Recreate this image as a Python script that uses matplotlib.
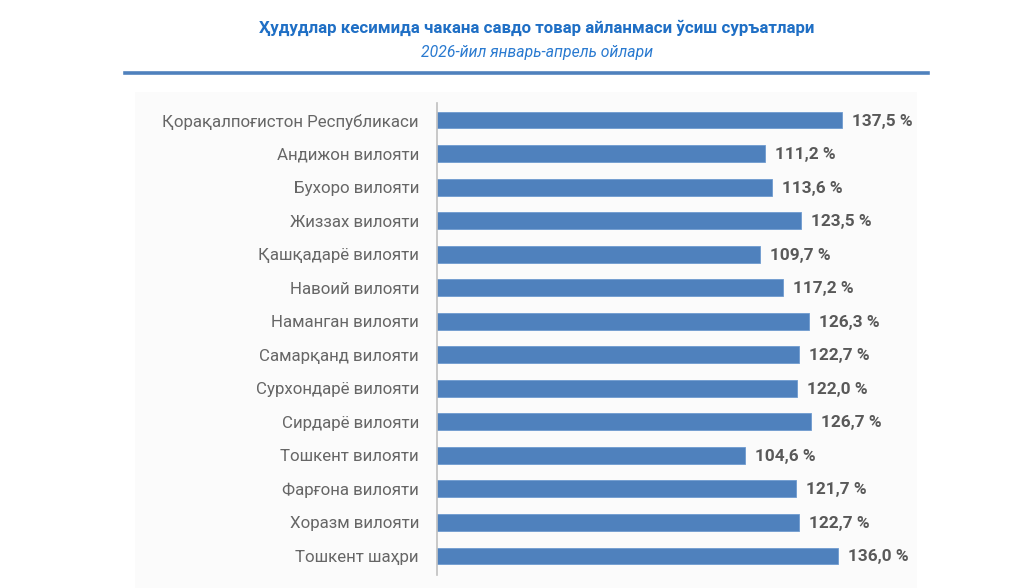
import matplotlib
matplotlib.use("Agg")
import matplotlib.pyplot as plt
from matplotlib.patches import Rectangle
from matplotlib.lines import Line2D

plt.rcParams["font.family"] = ["Liberation Sans Narrow", "Roboto", "DejaVu Sans"]

regions = [
    "Қорақалпоғистон Республикаси",
    "Андижон вилояти",
    "Бухоро вилояти",
    "Жиззах вилояти",
    "Қашқадарё вилояти",
    "Навоий вилояти",
    "Наманган вилояти",
    "Самарқанд вилояти",
    "Сурхондарё вилояти",
    "Сирдарё вилояти",
    "Тошкент вилояти",
    "Фарғона вилояти",
    "Хоразм вилояти",
    "Тошкент шаҳри",
]
growth = [137.5, 111.2, 113.6, 123.5, 109.7, 117.2, 126.3,
          122.7, 122.0, 126.7, 104.6, 121.7, 122.7, 136.0]

title = "Ҳудудлар кесимида чакана савдо товар айланмаси ўсиш суръатлари"
subtitle = "2026-йил январь-апрель ойлари"

W, H = 1024, 588
fig = plt.figure(figsize=(W / 100, H / 100), dpi=100)
fig.patch.set_facecolor("white")

# light panel behind the chart
fig.patches.append(Rectangle((135 / W, 0), (917 - 135) / W, 1 - 92 / H,
                             transform=fig.transFigure, facecolor="#fbfbfb",
                             edgecolor="none", zorder=-5))

fig.text(537 / W, 1 - 28 / H, title, ha="center", va="center",
         fontsize=12.2, fontweight="bold", color="#1f6fc5")
fig.text(537 / W, 1 - 52 / H, subtitle, ha="center", va="center",
         fontsize=11.3, style="italic", color="#2a7ad0")
fig.lines.append(Line2D([125 / W, 928 / W], [1 - 73 / H, 1 - 73 / H],
                        transform=fig.transFigure, color="#4f81bd", lw=2.6))

ax = fig.add_axes([437 / W, 1 - 575 / H, (917 - 437) / W, (575 - 103) / H])
ax.set_facecolor("none")
y = list(range(len(regions)))
bars = ax.barh(y, growth, height=0.5, color="#4f81bd", edgecolor="#6f9bd0", linewidth=0.6)
ax.set_xlim(0, 480 / 2.948)
ax.set_ylim(13.57, -0.51)

for b, v in zip(bars, growth):
    ax.text(b.get_width() + 3.4, b.get_y() + b.get_height() / 2 + 0.03,
            f"{v:.1f} %".replace(".", ","), va="center", ha="left",
            fontsize=12.4, fontweight="bold", color="#595959")

ax.set_yticks(y)
ax.set_yticklabels(regions, fontsize=12.2, color="#666666")
ax.tick_params(axis="y", length=0, pad=13)
ax.set_xticks([])
for s in ["top", "right", "bottom"]:
    ax.spines[s].set_visible(False)
ax.spines["left"].set_color("#bfbfbf")
ax.spines["left"].set_linewidth(1.2)

fig.savefig("out.png", dpi=100)
